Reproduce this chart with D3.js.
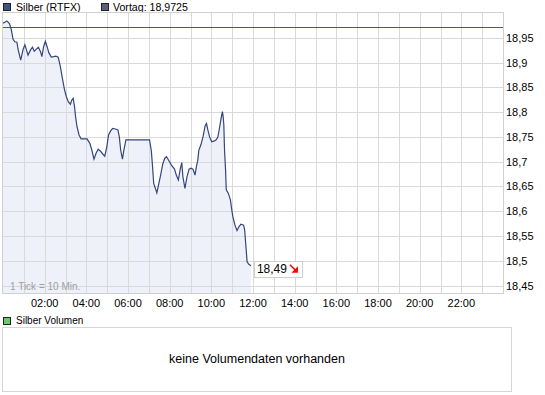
<!DOCTYPE html>
<html><head><meta charset="utf-8">
<script src="https://cdn.jsdelivr.net/npm/d3@7"></script>
<style>
html,body{margin:0;padding:0;background:#fff;}
svg{display:block;font-family:"Liberation Sans",Arial,sans-serif;}
</style></head>
<body><svg id="c" width="545" height="395"></svg>
<script>
// minutes since 00:00
const times = [2,11,19,24,29,34,40,44,51,58,63,67,72,79,85,90,96,102,108,112,117,122,127,132,139,146,152,159,165,171,177,182,188,194,198,202,206,209,213,219,225,242,250,256,262,268,274,281,288,293,299,304,310,316,324,331,335,339,344,348,354,422,427,430,434,439,443,448,454,460,466,471,477,485,494,499,505,511,515,518,524,530,536,541,547,553,557,561,564,570,576,582,586,590,595,601,609,614,619,624,629,632,634,636,638,641,643,649,655,659,662,668,674,680,685,693,696,699,703,708,714];
const prices = [18.980,18.984,18.978,18.966,18.947,18.942,18.941,18.925,18.905,18.927,18.936,18.927,18.915,18.925,18.931,18.923,18.927,18.931,18.922,18.912,18.932,18.943,18.932,18.920,18.911,18.912,18.913,18.911,18.893,18.868,18.846,18.832,18.821,18.816,18.824,18.828,18.811,18.791,18.771,18.754,18.746,18.746,18.737,18.723,18.705,18.717,18.725,18.721,18.715,18.711,18.730,18.754,18.762,18.767,18.766,18.764,18.750,18.723,18.705,18.723,18.744,18.744,18.723,18.697,18.656,18.646,18.637,18.653,18.673,18.695,18.707,18.710,18.703,18.693,18.685,18.673,18.663,18.687,18.698,18.670,18.646,18.670,18.685,18.687,18.685,18.673,18.690,18.703,18.723,18.734,18.750,18.772,18.777,18.764,18.750,18.740,18.742,18.744,18.750,18.770,18.791,18.801,18.791,18.774,18.723,18.683,18.643,18.636,18.623,18.602,18.589,18.572,18.561,18.569,18.574,18.572,18.562,18.535,18.498,18.493,18.490];
const prevClose = 18.9725;
const lastLabel = "18,49";
const yTicks = [18.45,18.5,18.55,18.6,18.65,18.7,18.75,18.8,18.85,18.9,18.95];
const xTickLabels = ["02:00","04:00","06:00","08:00","10:00","12:00","14:00","16:00","18:00","20:00","22:00"];
const seriesName = "Silber (RTFX)";
const prevName = "Vortag: 18,9725";
const volName = "Silber Volumen";
const volMsg = "keine Volumendaten vorhanden";
const tickNote = "1 Tick = 10 Min.";

const data = times.map((t,i)=>({t, v: prices[i]}));
const svg = d3.select("#c");
const L=3, R=503, T=13, B=293;
const x = d3.scaleLinear().domain([0,1440]).range([L,R]);
const y = d3.scaleLinear().domain([18.435,19.0]).range([B,T]);
const fmt = v => d3.format(".2~f")(v).replace(".",",");

// legend
svg.append("rect").attr("x",3.5).attr("y",3.5).attr("width",7).attr("height",7).attr("fill","#3e5482").attr("stroke","#222");
svg.append("text").attr("x",16).attr("y",11).attr("font-size","10.6px").attr("fill","#000").text(seriesName);
svg.append("rect").attr("x",101.5).attr("y",3.5).attr("width",7).attr("height",7).attr("fill","#5a5f7a").attr("stroke","#222");
svg.append("text").attr("x",113).attr("y",11).attr("font-size","10.6px").attr("fill","#000").text(prevName);

// plot bg
svg.append("rect").attr("x",L).attr("y",T).attr("width",R-L).attr("height",B-T).attr("fill","#fff");

// area
const area = d3.area().x(d=>x(d.t)).y0(B).y1(d=>y(d.v));
const areaData = [{t:0,v:prices[0]}, ...data];
svg.append("path").datum(areaData).attr("d",area).attr("fill","#eef1fa");

// grid
const g = svg.append("g").attr("stroke","#d9d9d9").attr("stroke-width",1).attr("shape-rendering","crispEdges");
d3.range(60,1440,60).forEach(m=>{
  g.append("line").attr("x1",Math.round(x(m))+0.5).attr("x2",Math.round(x(m))+0.5).attr("y1",T).attr("y2",B);
});
yTicks.forEach(v=>{
  g.append("line").attr("x1",L).attr("x2",R).attr("y1",Math.round(y(v))+0.5).attr("y2",Math.round(y(v))+0.5);
});
svg.append("rect").attr("x",L-0.5).attr("y",T-0.5).attr("width",R-L+1).attr("height",B-T+1).attr("fill","none").attr("stroke","#d0d0d0").attr("shape-rendering","crispEdges");

// previous close line
svg.append("line").attr("x1",L).attr("x2",R).attr("y1",Math.round(y(prevClose))+0.5).attr("y2",Math.round(y(prevClose))+0.5)
  .attr("stroke","#4a5580").attr("stroke-width",1).attr("shape-rendering","crispEdges");

// price line
const line = d3.line().x(d=>x(d.t)).y(d=>y(d.v));
svg.append("path").datum(areaData).attr("d",line).attr("fill","none").attr("stroke","#34467a").attr("stroke-width",1.2);

// y axis labels
yTicks.forEach(v=>{
  svg.append("text").attr("x",506).attr("y",y(v)+4).attr("font-size","11px").attr("fill","#000").text(fmt(v));
});
// x axis labels
xTickLabels.forEach((s,i)=>{
  const m = (i+1)*120;
  svg.append("text").attr("x",x(m)).attr("y",307).attr("text-anchor","middle").attr("font-size","11px").attr("fill","#000").text(s);
});

// tick note
svg.append("text").attr("x",10).attr("y",290).attr("font-size","10px").attr("fill","#a0a0a0").text(tickNote);

// last value box
const last = data[data.length-1];
const bx = x(last.t)+3, by = y(last.v)-5;
svg.append("rect").attr("x",Math.round(bx)+0.5).attr("y",Math.round(by)+0.5).attr("width",48).attr("height",16).attr("fill","#fff").attr("stroke","#cfcfcf").attr("shape-rendering","crispEdges");
svg.append("text").attr("x",bx+3).attr("y",by+12.5).attr("font-size","12px").attr("fill","#000").text(lastLabel);
const ax = bx+36, ay = by+4;
svg.append("line").attr("x1",ax).attr("y1",ay).attr("x2",ax+6).attr("y2",ay+6).attr("stroke","#f00").attr("stroke-width",1.6);
svg.append("path").attr("d",`M${ax+8},${ay+1.5} L${ax+8},${ay+8} L${ax+1.5},${ay+8} Z`).attr("fill","#f00");

// volume panel
svg.append("rect").attr("x",3.5).attr("y",317.5).attr("width",7).attr("height",7).attr("fill","#66cc66").attr("stroke","#222");
svg.append("text").attr("x",16).attr("y",324).attr("font-size","10px").attr("fill","#000").text(volName);
svg.append("rect").attr("x",2.5).attr("y",327.5).attr("width",509).attr("height",64).attr("fill","#fff").attr("stroke","#d6d6d6").attr("shape-rendering","crispEdges");
svg.append("text").attr("x",257).attr("y",363).attr("text-anchor","middle").attr("font-size","12.5px").attr("fill","#000").text(volMsg);
</script></body></html>
